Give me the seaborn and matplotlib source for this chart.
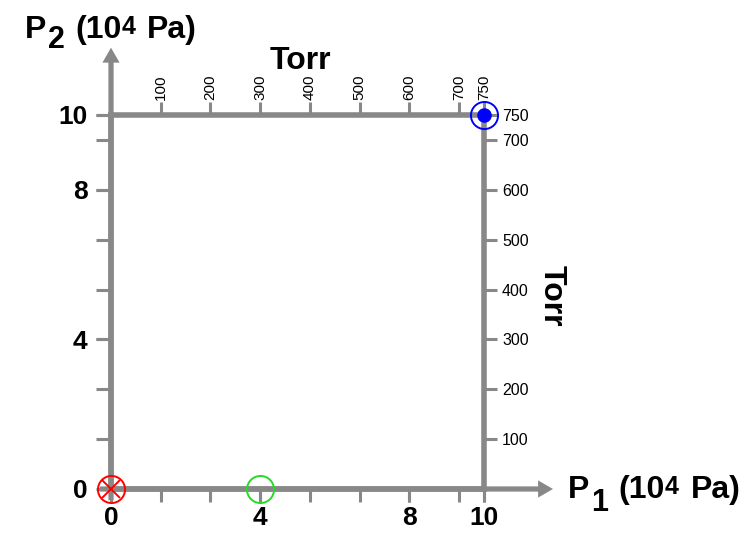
import matplotlib.pyplot as plt
import seaborn as sns

# pressure in units of 10^4 Pa, secondary scale in Torr
PA_PER_TORR = 133.322 / 1e4

pa_ticks = [0, 4, 8, 10]
pa_labels = ["0", "4", "8", "10"]
torr_ticks = [0, 100, 200, 300, 400, 500, 600, 700, 750]
torr_labels = ["100", "200", "300", "400", "500", "600", "700", "750"]

p1_points = [0, 4, 10]
p2_points = [0, 0, 10]
point_colors = ["#ff0000", "#22dd22", "#0000ff"]

gray = "#888888"

sns.set_theme(style="white")
plt.rcParams["font.family"] = ["Liberation Sans", "DejaVu Sans"]
plt.rcParams["text.color"] = "black"

fig = plt.figure(figsize=(7.55, 5.33), dpi=100)
ax = fig.add_axes([111 / 755, 1 - 489 / 533, 373 / 755, 374 / 533])
ax.set_xlim(0, 10)
ax.set_ylim(0, 10)
ax.set_facecolor("white")

for side in ["left", "bottom", "top", "right"]:
    ax.spines[side].set_color(gray)
    ax.spines[side].set_linewidth(4)
    ax.spines[side].set_zorder(2)

# main scale (10^4 Pa) with ticks at every 100 Torr
ax.set_xticks(pa_ticks, labels=pa_labels)
ax.set_yticks(pa_ticks, labels=pa_labels)
ax.set_xticks([t * PA_PER_TORR for t in torr_ticks], minor=True)
ax.set_yticks([t * PA_PER_TORR for t in torr_ticks], minor=True)
ax.tick_params(which="both", direction="out", width=2.2, color=gray, labelcolor="black",
               bottom=True, left=True, top=False, right=False)
ax.tick_params(axis="x", which="both", length=9.5)
ax.tick_params(axis="y", which="both", length=11)
ax.tick_params(axis="x", which="major", labelsize=19, pad=3)
ax.tick_params(axis="y", which="major", labelsize=19, pad=6)
for lab in ax.get_xticklabels() + ax.get_yticklabels():
    lab.set_fontweight("bold")

# Torr scales on top and right
to_torr = (lambda v: v / PA_PER_TORR, lambda t: t * PA_PER_TORR)
secx = ax.secondary_xaxis("top", functions=to_torr)
secx.set_xticks(torr_ticks[1:], labels=torr_labels)
secx.tick_params(direction="out", length=9.5, width=2.2, color=gray, labelcolor="black",
                 labelrotation=90, labelsize=11, pad=1)
secx.spines["top"].set_visible(False)

secy = ax.secondary_yaxis("right", functions=to_torr)
secy.set_yticks(torr_ticks[1:], labels=torr_labels)
secy.tick_params(direction="out", length=9.5, width=2.2, color=gray, labelcolor="black",
                 labelsize=11.5, pad=3.5)
secy.spines["right"].set_visible(False)

# axis arrows
ax.arrow(-0.3, 0, 12.15, 0, width=0.14, head_width=0.46, head_length=0.4,
         length_includes_head=True, color=gray, lw=0, clip_on=False, zorder=2)
ax.arrow(0, -0.3, 0, 12.1, width=0.14, head_width=0.46, head_length=0.4,
         length_includes_head=True, color=gray, lw=0, clip_on=False, zorder=2)

# state points
for x, y, c in zip(p1_points, p2_points, point_colors):
    ax.plot(x, y, "o", ms=19.5, mfc="none", mec=c, mew=1.4, clip_on=False, zorder=5)
ax.plot(p1_points[0], p2_points[0], "x", ms=13.5, mec=point_colors[0], mew=1.4,
        clip_on=False, zorder=5)
ax.plot(p1_points[2], p2_points[2], "o", ms=9.5, color=point_colors[2],
        clip_on=False, zorder=6)


def pressure_label(x, y, index, sub_drop):
    """P_index (10^4 Pa), built piece by piece to get full-size sub/superscripts."""
    kw = dict(fontweight="bold", va="bottom", ha="left", textcoords="offset points",
              annotation_clip=False)
    t = ax.text(x, y, "P", fontsize=23, fontweight="bold", va="bottom", ha="left")
    t = ax.annotate(index, xy=(1, 0), xycoords=t, xytext=(1, -sub_drop), fontsize=22, **kw)
    t = ax.annotate("(10", xy=(1, 0), xycoords=t, xytext=(7.5, sub_drop), fontsize=23, **kw)
    t = ax.annotate("4", xy=(1, 0), xycoords=t, xytext=(0.3, 4), fontsize=18, **kw)
    ax.annotate("Pa)", xy=(1, 0), xycoords=t, xytext=(8.5, -4), fontsize=23, **kw)


# axis titles
pressure_label(12.25, -0.42, "1", 9.5)
pressure_label(-2.31, 11.88, "2", 7.5)
ax.text(5.09, 11.22, "Torr", fontsize=23, fontweight="bold", ha="center", va="baseline")
ax.text(11.82, 5.16, "Torr", fontsize=23, fontweight="bold", ha="center", va="center",
        rotation=-90)

fig.savefig("out.png", dpi=100)
